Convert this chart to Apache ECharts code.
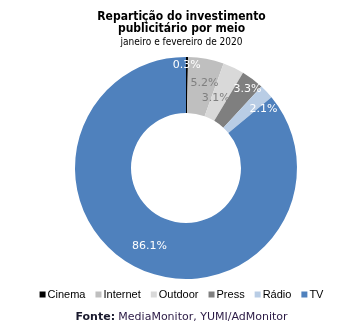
<!DOCTYPE html>
<html>
<head>
<meta charset="utf-8">
<script src="https://cdn.jsdelivr.net/npm/echarts@6/dist/echarts.min.js"></script>
<style>
  html, body { margin: 0; padding: 0; background: #fff; }
  #chart { width: 363px; height: 329px; }
</style>
</head>
<body>
<div id="chart"></div>
<script>
// Advertising investment split by medium, Jan–Feb 2020 (%)
const categories = ['Cinema', 'Internet', 'Outdoor', 'Press', 'Rádio', 'TV'];
const shares = [0.3, 5.2, 3.1, 3.3, 2.1, 86.1];
const sliceColors = ['#000000', '#bfbfbf', '#d9d9d9', '#7f7f7f', '#b9cde5', '#4f81bd'];
const labelColors = ['#ffffff', '#7f7f7f', '#7f7f7f', '#ffffff', '#ffffff', '#ffffff'];
// small nudges so the narrow slices' labels don't collide
const labelNudges = [[0, -17], [3, 0], [-7, 8], [10, -10], [15, 0], [0, 0]];

const titleLines = ['Repartição do investimento', 'publicitário por meio'];
const subtitle = 'janeiro e fevereiro de 2020';
const sourceLabel = 'Fonte:';
const sourceText = 'MediaMonitor, YUMI/AdMonitor';

const chart = echarts.init(document.getElementById('chart'), null, { renderer: 'canvas' });

const pieData = categories.map((name, i) => ({
  name: name,
  value: shares[i],
  itemStyle: { color: sliceColors[i] },
  label: { color: labelColors[i], offset: labelNudges[i] }
}));

chart.setOption({
  animation: false,
  title: {
    text: titleLines.join('\n'),
    subtext: subtitle,
    left: 'center',
    top: 6,
    itemGap: 1,
    textStyle: {
      fontFamily: 'DejaVu Sans Condensed',
      fontWeight: 'bold',
      fontSize: 12,
      lineHeight: 12,
      color: '#000'
    },
    subtextStyle: {
      fontFamily: 'DejaVu Sans Condensed',
      fontSize: 10,
      lineHeight: 13,
      color: '#000'
    }
  },
  legend: {
    data: categories,
    bottom: 24,
    left: 'center',
    icon: 'rect',
    itemWidth: 6,
    itemHeight: 6,
    itemGap: 10,
    textStyle: {
      fontFamily: 'Liberation Sans',
      fontSize: 11,
      color: '#000',
      padding: [0, 0, 0, -3]
    }
  },
  series: [{
    type: 'pie',
    center: [186, 168],
    radius: [55, 111],
    startAngle: 90,
    clockwise: true,
    avoidLabelOverlap: false,
    label: {
      show: true,
      position: 'inside',
      formatter: p => p.value.toFixed(1) + '%',
      fontFamily: 'DejaVu Sans',
      fontSize: 11
    },
    labelLine: { show: false },
    emphasis: { disabled: true },
    itemStyle: { borderWidth: 0 },
    data: pieData
  }],
  graphic: [{
    type: 'text',
    left: 'center',
    top: 311,
    style: {
      text: '{b|' + sourceLabel + '} {r|' + sourceText + '}',
      rich: {
        b: { fontFamily: 'DejaVu Sans', fontWeight: 'bold', fontSize: 11, fill: '#1a1a2e' },
        r: { fontFamily: 'DejaVu Sans', fontSize: 11, fill: '#2b1a45' }
      }
    }
  }]
});
</script>
</body>
</html>
